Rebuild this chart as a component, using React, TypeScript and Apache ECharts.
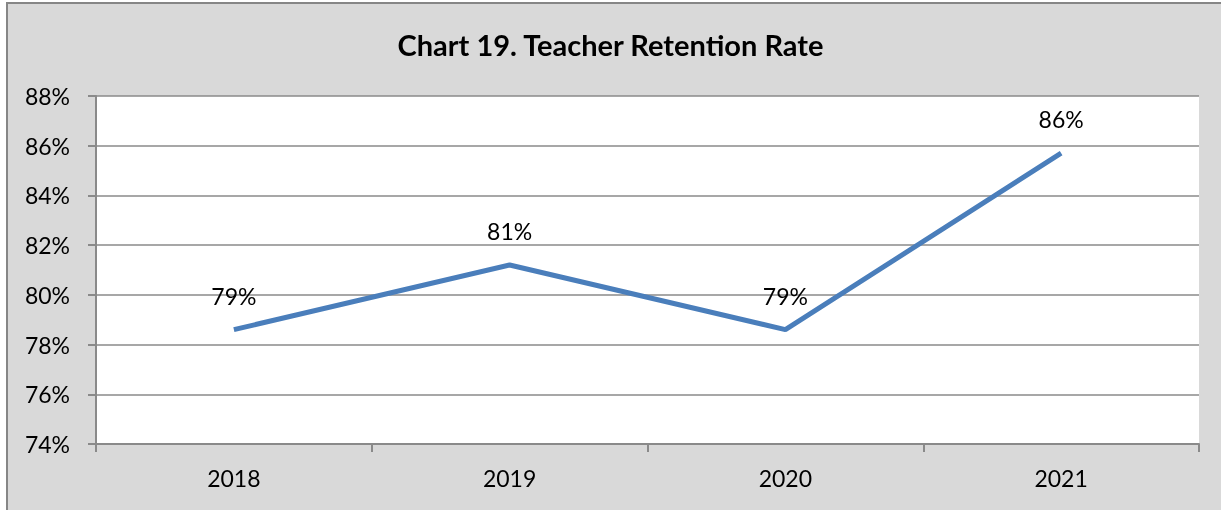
import React, { useEffect, useRef } from "react";
import * as echarts from "echarts";

const title = "Chart 19. Teacher Retention Rate";
const years = ["2018", "2019", "2020", "2021"];
const retention = [78.6, 81.2, 78.6, 85.7];
const yMin = 74;
const yMax = 88;
const yStep = 2;

export default function App() {
  const ref = useRef<HTMLDivElement>(null);
  useEffect(() => {
    if (!ref.current) return;
    const chart = echarts.init(ref.current, undefined, { renderer: "svg" });
    const font = "Lato, 'Open Sans', sans-serif";
    chart.setOption({
      animation: false,
      backgroundColor: "transparent",
      graphic: [
        {
          type: "rect",
          z: -10,
          silent: true,
          shape: { x: 7, y: 3, width: 1240, height: 540 },
          style: { fill: "#d9d9d9", stroke: "#868686", lineWidth: 2 },
        },
      ],
      title: {
        text: title,
        left: "center",
        top: 25,
        textStyle: { fontFamily: font, fontSize: 29, fontWeight: "bold", color: "#000" },
      },
      grid: {
        left: 96,
        right: 22,
        top: 96,
        bottom: 66,
        show: true,
        backgroundColor: "#ffffff",
        borderWidth: 0,
      },
      xAxis: {
        type: "category",
        data: years,
        boundaryGap: true,
        axisLine: { show: true, lineStyle: { color: "#8a8a8a", width: 2 } },
        axisTick: { show: true, length: 8, alignWithLabel: false, lineStyle: { color: "#8a8a8a", width: 2 } },
        axisLabel: { color: "#000", fontFamily: font, fontSize: 23, margin: 22 },
        splitLine: { show: false },
      },
      yAxis: {
        type: "value",
        min: yMin,
        max: yMax,
        interval: yStep,
        axisLine: { show: true, lineStyle: { color: "#8a8a8a", width: 2 } },
        axisTick: { show: true, length: 8, lineStyle: { color: "#8a8a8a", width: 2 } },
        axisLabel: {
          color: "#000",
          fontFamily: font,
          fontSize: 23,
          margin: 26,
          formatter: (v: number) => `${v}%`,
        },
        splitLine: { show: true, lineStyle: { color: "#8a8a8a", width: 1.5 } },
      },
      series: [
        {
          type: "line",
          data: retention,
          symbol: "circle",
          symbolSize: 1,
          showSymbol: true,
          itemStyle: { color: "rgba(0,0,0,0)" },
          lineStyle: { color: "#4a7ebb", width: 5 },
          label: {
            show: true,
            position: "top",
            distance: 22,
            color: "#000",
            opacity: 1,
            fontFamily: font,
            fontSize: 23,
            formatter: (p: any) => `${Math.round(p.value)}%`,
          },
        },
      ],
    });
    return () => chart.dispose();
  }, []);
  return (
    <div
      ref={ref}
      style={{ position: "fixed", left: 0, top: 0, width: 1221, height: 510 }}
    />
  );
}
